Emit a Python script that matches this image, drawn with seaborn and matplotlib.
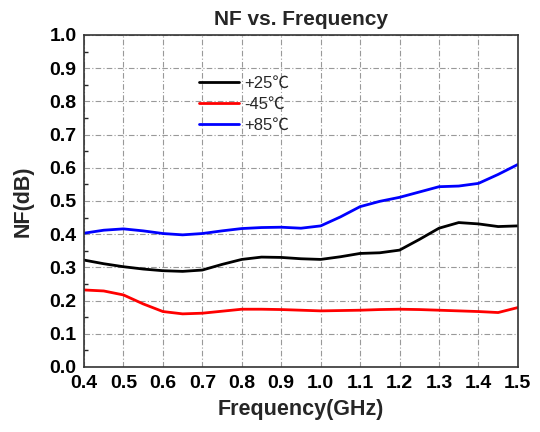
import matplotlib
matplotlib.use("Agg")
import matplotlib.pyplot as plt
import seaborn as sns
import pandas as pd
from matplotlib.ticker import MultipleLocator

freq = [0.40, 0.45, 0.50, 0.55, 0.60, 0.65, 0.70, 0.75, 0.80, 0.85, 0.90, 0.95,
        1.00, 1.05, 1.10, 1.15, 1.20, 1.25, 1.30, 1.35, 1.40, 1.45, 1.50]
nf_25 = [0.322, 0.311, 0.302, 0.295, 0.290, 0.288, 0.292, 0.309, 0.324, 0.331, 0.330, 0.326,
         0.324, 0.332, 0.342, 0.344, 0.352, 0.384, 0.418, 0.435, 0.431, 0.423, 0.425]
nf_m45 = [0.232, 0.229, 0.217, 0.190, 0.167, 0.160, 0.162, 0.168, 0.174, 0.174, 0.173, 0.171,
          0.169, 0.170, 0.171, 0.173, 0.174, 0.173, 0.171, 0.169, 0.167, 0.164, 0.179]
nf_85 = [0.403, 0.412, 0.416, 0.410, 0.402, 0.398, 0.402, 0.410, 0.417, 0.420, 0.421, 0.418,
         0.425, 0.452, 0.483, 0.499, 0.511, 0.527, 0.543, 0.545, 0.553, 0.580, 0.610]
labels = ["+25℃", "-45℃", "+85℃"]
colors = ["#000000", "#ff0000", "#0000ff"]

df = pd.concat([
    pd.DataFrame({"freq": freq, "nf": v, "T": lab})
    for v, lab in zip([nf_25, nf_m45, nf_85], labels)
])

sns.set_style("white")
plt.rcParams["font.family"] = ["Liberation Sans", "Noto Sans CJK SC", "DejaVu Sans"]

fig = plt.figure(figsize=(5.4, 4.32), dpi=100)
ax = fig.add_axes([0.1556, 0.1505, 0.8034, 0.7685])
sns.lineplot(data=df, x="freq", y="nf", hue="T", palette=colors, hue_order=labels,
             linewidth=2.0, ax=ax, legend=True)

ax.set_xlim(0.4, 1.5)
ax.set_ylim(0.0, 1.0)
ax.xaxis.set_major_locator(MultipleLocator(0.1))
ax.yaxis.set_major_locator(MultipleLocator(0.1))
ax.yaxis.set_minor_locator(MultipleLocator(0.05))
ax.xaxis.set_major_formatter(matplotlib.ticker.FormatStrFormatter("%.1f"))
ax.yaxis.set_major_formatter(matplotlib.ticker.FormatStrFormatter("%.1f"))
ax.grid(True, which="major", color="#999999", linestyle=(0, (5, 2, 1, 2)), linewidth=0.8)
ax.tick_params(axis="both", which="major", direction="inout", length=7, width=1,
               labelsize=14, pad=2, colors="black")
ax.tick_params(axis="y", which="minor", direction="in", length=3, width=1, left=True)
for lab in ax.get_xticklabels() + ax.get_yticklabels():
    lab.set_fontweight("bold")
for s in ax.spines.values():
    s.set_color("#333333")
    s.set_linewidth(1.2)

ax.set_xlabel("Frequency(GHz)", fontsize=15.5, fontweight="bold", labelpad=5)
ax.set_ylabel("NF(dB)", fontsize=15.5, fontweight="bold", labelpad=11)
ax.set_title("NF vs. Frequency", fontsize=15, fontweight="bold", pad=7)

leg = ax.legend(loc="upper left", bbox_to_anchor=(0.25, 0.898), frameon=False,
                fontsize=12, handlelength=2.4, labelspacing=0.37, handletextpad=0.3,
                borderaxespad=0)

fig.savefig("out.png", dpi=100)
